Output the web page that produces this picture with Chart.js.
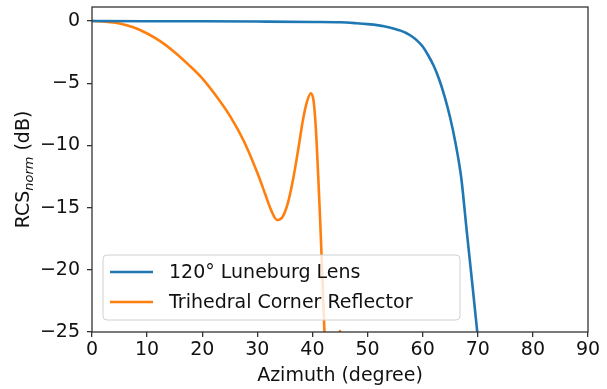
<!DOCTYPE html>
<html>
<head>
<meta charset="utf-8">
<script src="https://cdn.jsdelivr.net/npm/chart.js@4.4.1/dist/chart.umd.min.js"></script>
<style>
  html, body { margin: 0; padding: 0; background: #fff; }
  #wrap { width: 607px; height: 389px; }
</style>
</head>
<body>
<div id="wrap"><canvas id="rcs" width="607" height="389"></canvas></div>
<script>
// azimuth (deg) / normalised RCS (dB) per target
const lensAz = [0, 10, 20, 30, 40, 45, 48, 50, 52, 53, 54, 55, 56, 57, 58, 59, 60, 61, 62, 63, 64, 65, 66, 67, 68, 69, 70, 70.5];
const lensRcs = [0, -0.01, -0.02, -0.04, -0.07, -0.1, -0.18, -0.25, -0.35, -0.42, -0.52, -0.63, -0.77, -0.96, -1.22, -1.57, -2.05, -2.75, -3.6, -4.7, -6.1, -7.8, -9.9, -12.6, -16.9, -21.1, -25.4, -27.6];

const cornerAz = [0, 2.5, 5, 7.5, 10, 12.5, 15, 17.5, 20, 22.5, 25, 27.5, 30, 31.5, 32.5, 33.6, 34.5, 35.5, 36.5, 37.5, 38.3, 39, 39.7, 40.2, 40.6, 41, 41.4, 41.8, 42.2, 42.6, 43.2, 43.8, 44.4, 45, 45.6, 46.5];
const cornerRcs = [0, -0.05, -0.19, -0.5, -1.0, -1.65, -2.5, -3.5, -4.6, -6.0, -7.6, -9.6, -12.2, -14.0, -15.2, -16.0, -15.8, -14.7, -12.7, -10.1, -7.9, -6.5, -5.8, -6.4, -8.5, -12.0, -16.0, -20.5, -25.3, -30, -33, -31, -27, -24.9, -27, -35];

const xTicks = [0, 10, 20, 30, 40, 50, 60, 70, 80, 90];
const yTicks = [-25, -20, -15, -10, -5, 0];

const seriesNames = ['120\u00b0 Luneburg Lens', 'Trihedral Corner Reflector'];
const seriesColors = ['#1f77b4', '#ff7f0e'];

const FONT = 'DejaVu Sans';
const pts = (xs, ys) => xs.map((x, i) => ({ x: x, y: ys[i] }));
const minus = v => (v < 0 ? '\u2212' + Math.abs(v) : String(v));

// frame, y-axis label with subscript, and legend box drawn over the lines
const decorations = {
  id: 'decorations',
  afterDatasetsDraw(chart) {
    const ctx = chart.ctx;
    const a = chart.chartArea;
    ctx.save();

    // legend
    const lx = 103, ly = 255, lw = 357, lh = 65;
    ctx.beginPath();
    ctx.roundRect(lx, ly, lw, lh, 4);
    ctx.fillStyle = 'rgba(255,255,255,0.8)';
    ctx.fill();
    ctx.strokeStyle = '#d0d0d0';
    ctx.lineWidth = 1;
    ctx.stroke();
    ctx.font = '19px "' + FONT + '"';
    ctx.textBaseline = 'middle';
    ctx.textAlign = 'left';
    chart.data.datasets.forEach((ds, i) => {
      const y = ly + 17 + i * 30;
      ctx.beginPath();
      ctx.moveTo(110, y);
      ctx.lineTo(153, y);
      ctx.strokeStyle = ds.borderColor;
      ctx.lineWidth = 2.6;
      ctx.stroke();
      ctx.fillStyle = '#111';
      ctx.fillText(ds.label, 169, y + 1);
    });

    // axes frame
    ctx.strokeStyle = '#333';
    ctx.lineWidth = 1.3;
    ctx.strokeRect(a.left, a.top, a.right - a.left, a.bottom - a.top);

    // y title: RCS_norm (dB)
    ctx.translate(22, (a.top + a.bottom) / 2);
    ctx.rotate(-Math.PI / 2);
    ctx.fillStyle = '#111';
    ctx.textBaseline = 'alphabetic';
    const big = '19px "' + FONT + '"';
    const small = 'italic 13px "' + FONT + '"';
    ctx.font = big;
    const w1 = ctx.measureText('RCS').width;
    const w3 = ctx.measureText(' (dB)').width;
    ctx.font = small;
    const w2 = ctx.measureText('norm').width;
    let x0 = -(w1 + w2 + w3) / 2;
    ctx.font = big;
    ctx.fillText('RCS', x0, 7);
    ctx.font = small;
    ctx.fillText('norm', x0 + w1, 11);
    ctx.font = big;
    ctx.fillText(' (dB)', x0 + w1 + w2, 7);
    ctx.restore();
  }
};

new Chart(document.getElementById('rcs'), {
  type: 'line',
  data: {
    datasets: [
      { label: seriesNames[0], data: pts(lensAz, lensRcs), borderColor: seriesColors[0] },
      { label: seriesNames[1], data: pts(cornerAz, cornerRcs), borderColor: seriesColors[1] }
    ]
  },
  options: {
    responsive: false,
    animation: false,
    layout: { padding: { top: 7, right: 19, left: 0, bottom: 0 } },
    elements: {
      point: { radius: 0 },
      line: { borderWidth: 2.6, cubicInterpolationMode: 'monotone', fill: false }
    },
    plugins: { legend: { display: false }, tooltip: { enabled: false } },
    scales: {
      x: {
        type: 'linear',
        min: 0, max: 90,
        afterBuildTicks: s => { s.ticks = xTicks.map(v => ({ value: v })); },
        afterFit: s => { s.height = 57; s.paddingLeft = 0; s.paddingRight = 0; },
        grid: { display: true, drawOnChartArea: false, drawTicks: true, tickLength: 5, color: '#333', lineWidth: 1.3 },
        border: { display: false },
        ticks: { color: '#111', font: { family: FONT, size: 19 }, padding: 2, maxRotation: 0 },
        title: { display: true, text: 'Azimuth (degree)', color: '#111', font: { family: FONT, size: 19 }, padding: { top: 0, bottom: 2 } }
      },
      y: {
        type: 'linear',
        min: -25, max: 1.13,
        afterBuildTicks: s => { s.ticks = yTicks.map(v => ({ value: v })); },
        afterFit: s => { s.width = 92; s.paddingTop = 0; s.paddingBottom = 0; },
        grid: { display: true, drawOnChartArea: false, drawTicks: true, tickLength: 5, color: '#333', lineWidth: 1.3 },
        border: { display: false },
        ticks: { color: '#111', font: { family: FONT, size: 19 }, padding: 7, callback: v => minus(v) }
      }
    }
  },
  plugins: [decorations]
});
</script>
</body>
</html>
